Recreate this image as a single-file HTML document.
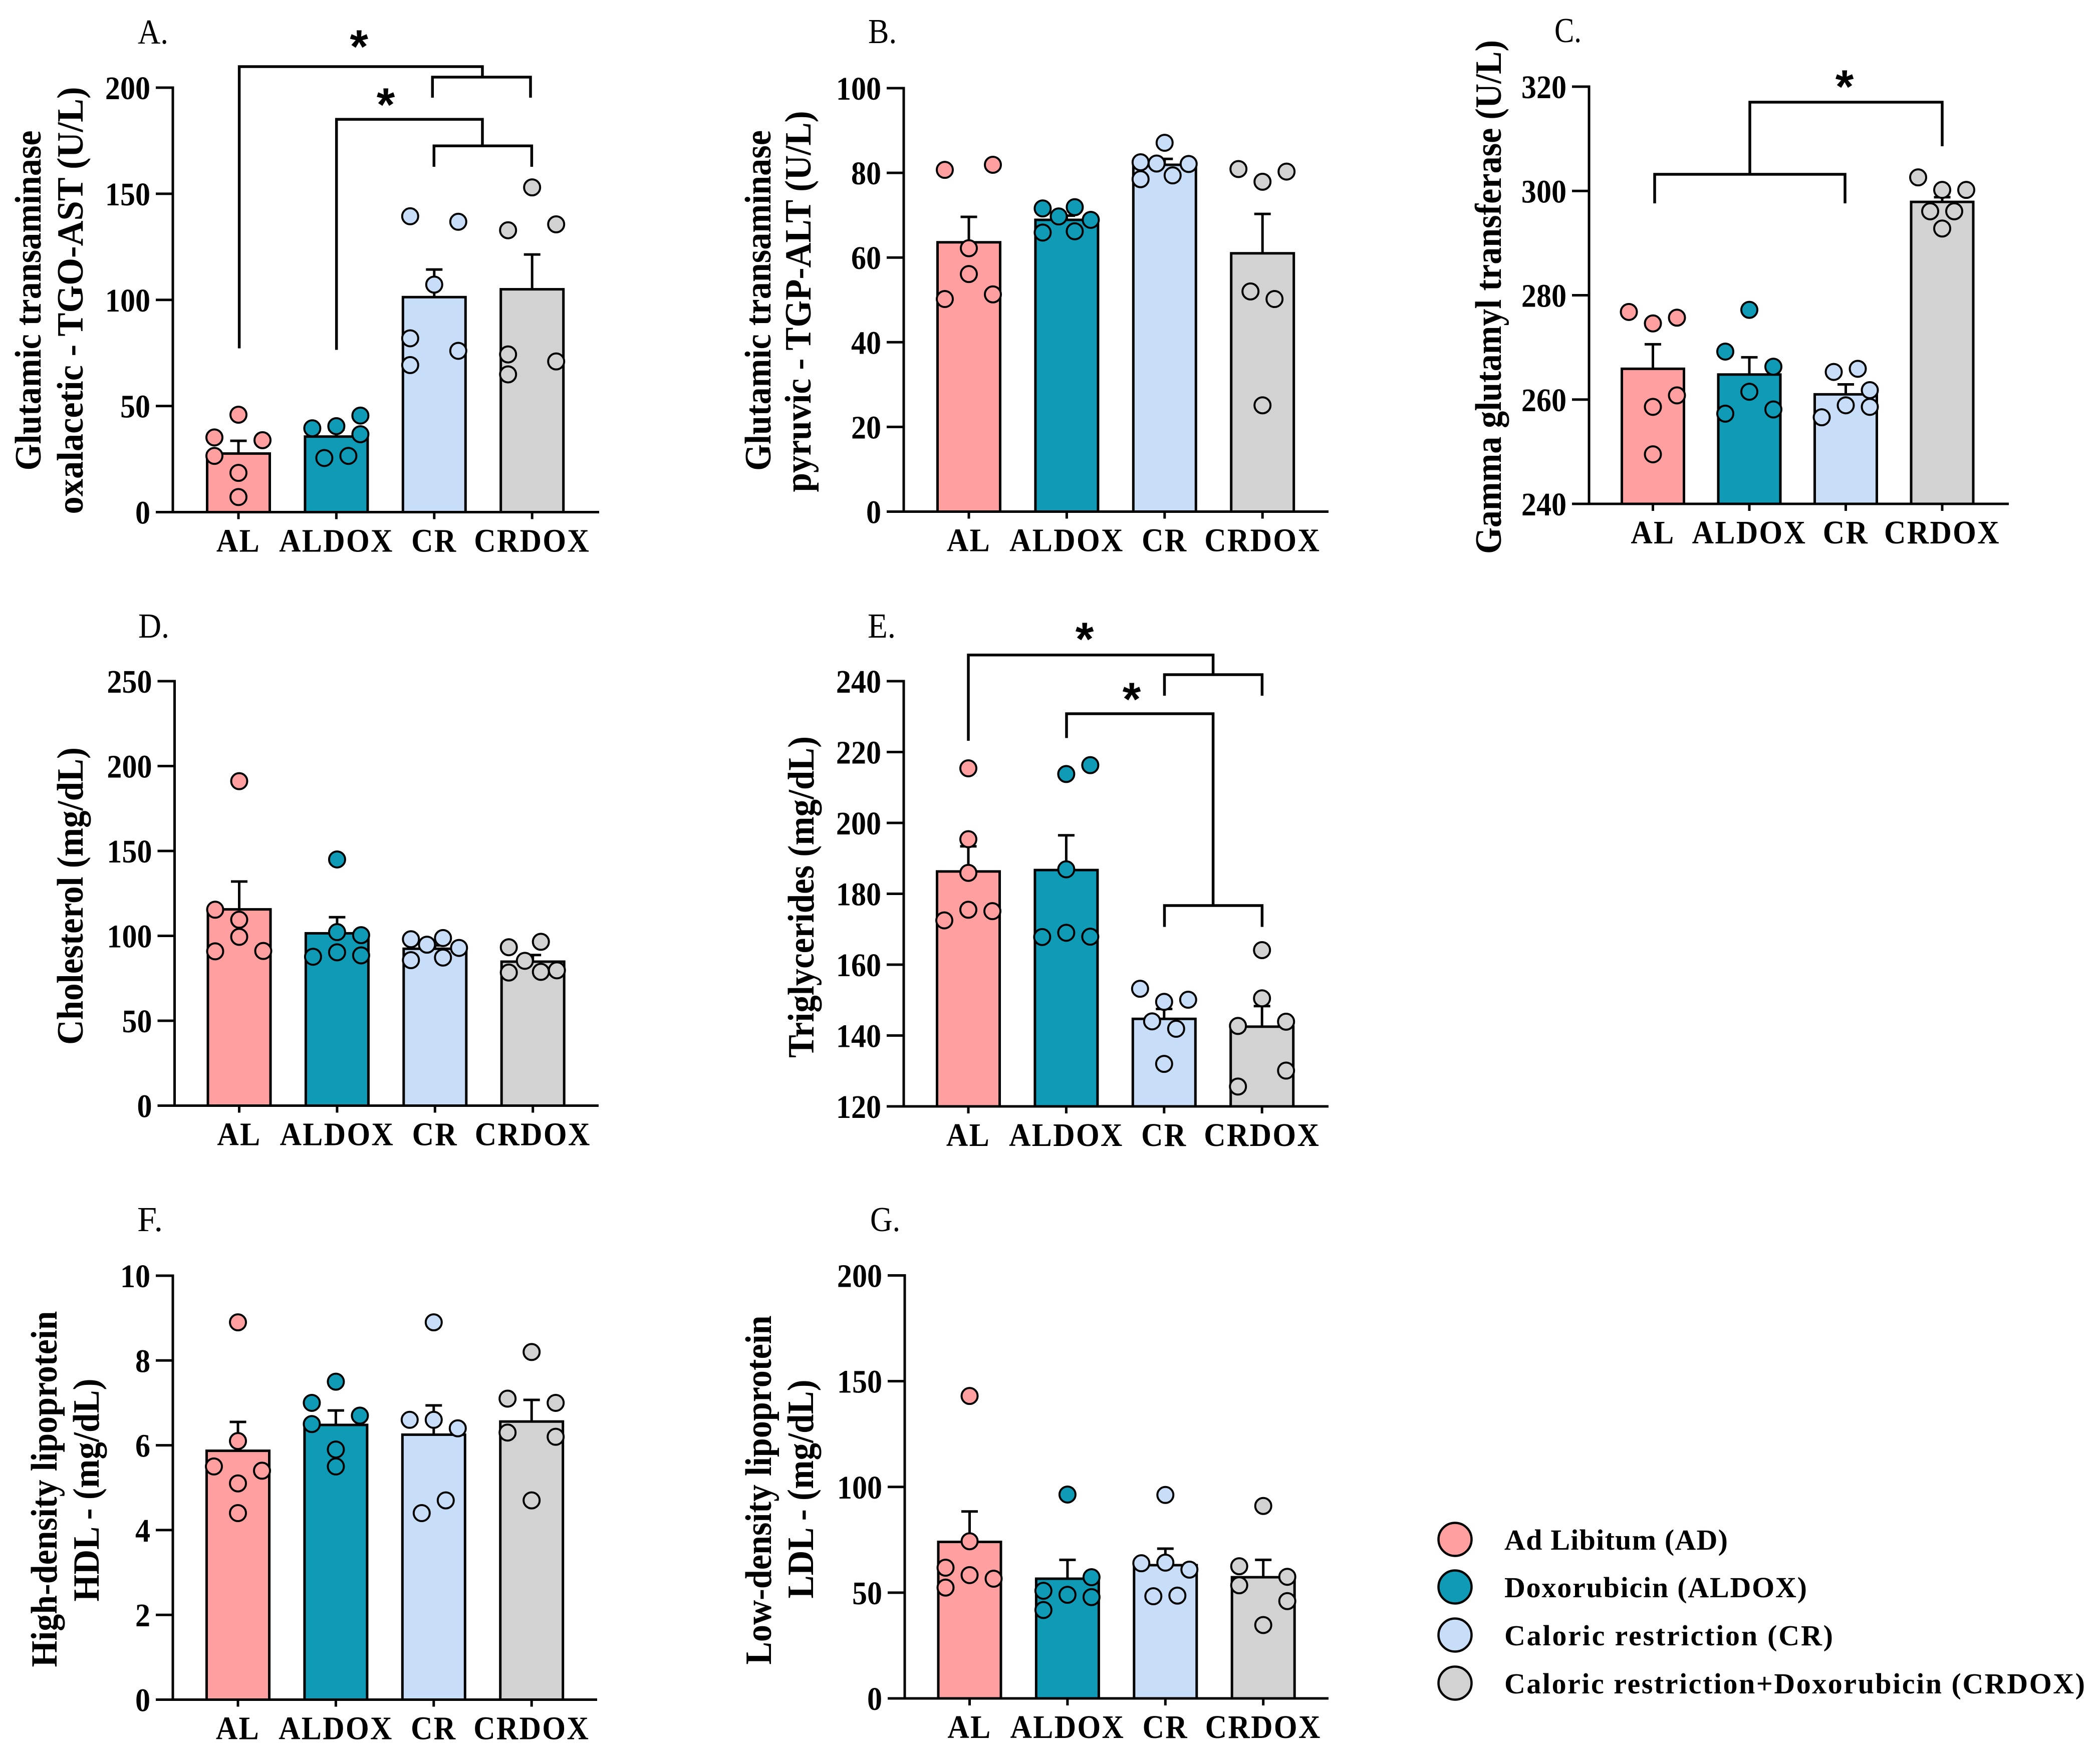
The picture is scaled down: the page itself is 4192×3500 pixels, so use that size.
<!DOCTYPE html>
<html lang="en">
<head>
<meta charset="utf-8">
<title>Serum biochemistry bar charts</title>
<style>
html,body{margin:0;padding:0;background:#fff;}
svg{display:block;}
text{font-family:"Liberation Serif",serif;fill:#000;}
.ytitle{font-weight:700;font-size:74px;}
.letter{font-size:70px;}
.legend-text{font-weight:700;font-size:58px;}
.star{font-family:"Liberation Sans",sans-serif;font-weight:700;font-size:94px;text-anchor:middle;}
.tick{font-weight:700;font-size:66px;text-anchor:end;}
.cat{font-weight:700;font-size:66px;text-anchor:middle;letter-spacing:2.6px;}
.br{fill:none;stroke:#000;stroke-width:5.5;stroke-linejoin:miter;}
</style>
</head>
<body>
<svg id="figure" xmlns="http://www.w3.org/2000/svg" width="4192" height="3500" viewBox="0 0 4192 3500">
<rect x="0" y="0" width="4192" height="3500" fill="#fff"/>

<g id="panel-a">
  <text class="letter" x="275" y="87" textLength="61" lengthAdjust="spacingAndGlyphs">A.</text>
  <text class="ytitle" transform="translate(81,600) rotate(-90)" text-anchor="middle" textLength="679" lengthAdjust="spacingAndGlyphs">Glutamic transaminase</text>
  <text class="ytitle" transform="translate(165,600) rotate(-90)" text-anchor="middle" textLength="853" lengthAdjust="spacingAndGlyphs">oxalacetic - TGO-AST (U/L)</text>
  <path class="br" d="M477.6 695.5V133H963V154"/>
  <path class="br" d="M863.3 195V154H1059V195"/>
  <path class="br" d="M671.7 698.5V238.3H963V291.3"/>
  <path class="br" d="M866.3 333V291.3H1061.4V333"/>
  <text class="star" x="716.7" y="125">*</text>
  <text class="star" x="770" y="241">*</text>
</g>

<g id="panel-b">
  <text class="letter" x="1733" y="86" textLength="57" lengthAdjust="spacingAndGlyphs">B.</text>
  <text class="ytitle" transform="translate(1538,600) rotate(-90)" text-anchor="middle" textLength="680" lengthAdjust="spacingAndGlyphs">Glutamic transaminase</text>
  <text class="ytitle" transform="translate(1618,602) rotate(-90)" text-anchor="middle" textLength="761" lengthAdjust="spacingAndGlyphs">pyruvic - TGP-ALT (U/L)</text>
</g>

<g id="panel-c">
  <text class="letter" x="3103" y="84" textLength="54" lengthAdjust="spacingAndGlyphs">C.</text>
  <text class="ytitle" transform="translate(2996,593) rotate(-90)" text-anchor="middle" textLength="1026" lengthAdjust="spacingAndGlyphs">Gamma glutamyl transferase (U/L)</text>
  <path class="br" d="M3303 406V348H3683V406"/>
  <path class="br" d="M3493 348V204H3877V292"/>
  <text class="star" x="3682" y="205">*</text>
</g>

<g id="panel-d">
  <text class="letter" x="276" y="1273" textLength="62" lengthAdjust="spacingAndGlyphs">D.</text>
  <text class="ytitle" transform="translate(165,1789) rotate(-90)" text-anchor="middle" textLength="594" lengthAdjust="spacingAndGlyphs">Cholesterol (mg/dL)</text>
</g>

<g id="panel-e">
  <text class="letter" x="1732" y="1273" textLength="56" lengthAdjust="spacingAndGlyphs">E.</text>
  <text class="ytitle" transform="translate(1624,1791) rotate(-90)" text-anchor="middle" textLength="642" lengthAdjust="spacingAndGlyphs">Triglycerides (mg/dL)</text>
  <path class="br" d="M1933 1479V1307.7H2421.6V1347"/>
  <path class="br" d="M2324.5 1389V1347H2519.4V1389"/>
  <path class="br" d="M2129 1473.5V1425H2421.6V1808"/>
  <path class="br" d="M2324.5 1850.6V1808H2519.4V1850.6"/>
  <text class="star" x="2165" y="1308">*</text>
  <text class="star" x="2259" y="1428">*</text>
</g>

<g id="panel-f">
  <text class="letter" x="274" y="2458" textLength="51" lengthAdjust="spacingAndGlyphs">F.</text>
  <text class="ytitle" transform="translate(113,2973) rotate(-90)" text-anchor="middle" textLength="711" lengthAdjust="spacingAndGlyphs">High-density lipoprotein</text>
  <text class="ytitle" transform="translate(197,2975) rotate(-90)" text-anchor="middle" textLength="445" lengthAdjust="spacingAndGlyphs">HDL - (mg/dL)</text>
</g>

<g id="panel-g">
  <text class="letter" x="1737" y="2458" textLength="60" lengthAdjust="spacingAndGlyphs">G.</text>
  <text class="ytitle" transform="translate(1539,2975) rotate(-90)" text-anchor="middle" textLength="697" lengthAdjust="spacingAndGlyphs">Low-density lipoprotein</text>
  <text class="ytitle" transform="translate(1623,2973) rotate(-90)" text-anchor="middle" textLength="437" lengthAdjust="spacingAndGlyphs">LDL - (mg/dL)</text>
</g>

<g>
  <g>
    <circle cx="2904.5" cy="3073.5" r="33" fill="#FF9F9F" stroke="#000" stroke-width="4.5"/>
    <text class="legend-text" x="3003" y="3094" textLength="446">Ad Libitum (AD)</text>
  </g>
  <g>
    <circle cx="2904.5" cy="3168.5" r="33" fill="#0F9AB5" stroke="#000" stroke-width="4.5"/>
    <text class="legend-text" x="3003" y="3189" textLength="604">Doxorubicin (ALDOX)</text>
  </g>
  <g>
    <circle cx="2904.5" cy="3264.5" r="33" fill="#C8DDF8" stroke="#000" stroke-width="4.5"/>
    <text class="legend-text" x="3003" y="3285" textLength="656">Caloric restriction (CR)</text>
  </g>
  <g>
    <circle cx="2904.5" cy="3360.5" r="33" fill="#D2D2D2" stroke="#000" stroke-width="4.5"/>
    <text class="legend-text" x="3003" y="3381" textLength="1159">Caloric restriction+Doxorubicin (CRDOX)</text>
  </g>
</g>
</svg>

<script>
// Shared categories and colours
const categories = ['AL', 'ALDOX', 'CR', 'CRDOX'];
const groupColors = ['#FF9F9F', '#0F9AB5', '#C8DDF8', '#D2D2D2'];

// Panel A
const aTicks = [0, 50, 100, 150, 200];
const aMeans = [27.6, 35.6, 101.3, 105];
const aErrorTops = [33.6, 39, 114.3, 121.4];
const aPoints = [
  [45.9, 35.2, 33.9, 26.5, 18.5, 7.1],
  [39.5, 40.5, 45.5, 36.7, 25.5, 26.5],
  [139.4, 136.8, 107.2, 81.9, 76, 69.3],
  [153, 132.8, 135.6, 74.3, 71, 64.9]
];
const aSlots = [
  [0, -3, 3, -3, 0, 0],
  [-3, 0, 3, 3, -1.5, 1.5],
  [-3, 3, 0, -3, 3, -3],
  [0, -3, 3, -3, 3, -3]
];

// Panel B
const bTicks = [0, 20, 40, 60, 80, 100];
const bMeans = [63.6, 68.9, 81.9, 61];
const bErrorTops = [69.6, 69.9, 83.3, 70.3];
const bPoints = [
  [80.7, 81.9, 62.2, 56.1, 50.2, 51.3],
  [71.6, 69.7, 71.9, 68.9, 65.9, 66.2],
  [87.1, 82.5, 82.2, 82.1, 78.5, 79.4],
  [80.9, 80.3, 77.9, 52, 50.2, 25.1]
];
const bSlots = [
  [-3, 3, 0, 0, -3, 3],
  [-3, -1, 1, 3, -3, 1],
  [0, -3, -1, 3, -3, 1],
  [-3, 3, 0, -1.5, 1.5, 0]
];

// Panel C
const cTicks = [240, 260, 280, 300, 320];
const cMeans = [265.9, 264.8, 261, 297.9];
const cErrorTops = [270.6, 268.1, 262.9, 298.8];
const cPoints = [
  [276.8, 274.6, 275.7, 260.8, 258.6, 249.5],
  [277.2, 269.2, 266.3, 261.5, 257.3, 258.1],
  [265.3, 265.9, 261.8, 258.9, 258.6, 256.6],
  [302.6, 300.2, 300.2, 296.1, 296.1, 292.8]
];
const cSlots = [
  [-3, 0, 3, 3, 0, 0],
  [0, -3, 3, 0, -3, 3],
  [-1.5, 1.5, 3, 0, 3, -3],
  [-3, 0, 3, -1.5, 1.5, 0]
];

// Panel D
const dTicks = [0, 50, 100, 150, 200, 250];
const dMeans = [115.6, 101.5, 92.4, 84.8];
const dErrorTops = [132, 111, 94.4, 88.7];
const dPoints = [
  [191.1, 115.4, 109.5, 99.4, 90.9, 91.1],
  [145, 102.2, 100.4, 90.3, 87.7, 88.5],
  [98, 98.7, 94.8, 92.9, 85.7, 87.2],
  [96.5, 93.3, 85.3, 78.4, 78.8, 79.7]
];
const dSlots = [
  [0, -3, 0, 0, -3, 3],
  [0, 0, 3, 0, -3, 3],
  [-3, 1, -1, 3, -3, 1],
  [1, -3, -1, -3, 1, 3]
];

// Panel E
const eTicks = [120, 140, 160, 180, 200, 220, 240];
const eMeans = [186.3, 186.7, 144.7, 142.5];
const eErrorTops = [193.4, 196.5, 147.5, 148.3];
const ePoints = [
  [215.4, 195.4, 185.9, 175.5, 175.1, 172.5],
  [216.3, 213.8, 186.9, 167.8, 169, 167.9],
  [153.2, 149.5, 150.1, 144, 141.9, 132],
  [164.1, 150.5, 142.7, 143.9, 130.1, 125.6]
];
const eSlots = [
  [0, 0, 0, 0, 3, -3],
  [3, 0, 0, -3, 0, 3],
  [-3, 0, 3, -1.5, 1.5, 0],
  [0, 0, -3, 3, 3, -3]
];

// Panel F
const fTicks = [0, 2, 4, 6, 8, 10];
const fMeans = [5.87, 6.48, 6.25, 6.56];
const fErrorTops = [6.55, 6.82, 6.94, 7.07];
const fPoints = [
  [8.9, 6.1, 5.5, 5.4, 5.1, 4.4],
  [7.5, 7, 6.7, 6.5, 5.9, 5.5],
  [8.9, 6.6, 6.6, 6.4, 4.7, 4.4],
  [8.2, 7.1, 7, 6.3, 6.2, 4.7]
];
const fSlots = [
  [0, 0, -3, 3, 0, 0],
  [0, -3, 3, -3, 0, 0],
  [0, -3, 0, 3, 1.5, -1.5],
  [0, -3, 3, -3, 3, 0]
];

// Panel G
const gTicks = [0, 50, 100, 150, 200];
const gMeans = [74, 56.6, 63, 57.3];
const gErrorTops = [88.4, 65.5, 70.8, 65.5];
const gPoints = [
  [143, 74.3, 61.8, 58.3, 56.6, 52.4],
  [96.4, 57.3, 50.9, 49, 47.9, 41.8],
  [96.2, 63.9, 64.2, 60.9, 48.3, 48.6],
  [91, 62.5, 57.5, 53.5, 46, 34.7]
];
const gSlots = [
  [0, 0, -3, 0, 3, -3],
  [0, 3, -3, 0, 3, -3],
  [0, -3, 0, 3, -1.5, 1.5],
  [0, -3, 3, -3, 3, 0]
];

// Panel frames and the data each one draws
const panels = [
  { id: 'panel-a', axisX: 345, top: 175, bottom: 1022.5, right: 1196, firstX: 476, step: 195.4, barHalf: 62.5, ticks: aTicks, means: aMeans, errs: aErrorTops, pts: aPoints, slots: aSlots },
  { id: 'panel-b', axisX: 1804, top: 176, bottom: 1021.5, right: 2652, firstX: 1934, step: 195.4, barHalf: 62.5, ticks: bTicks, means: bMeans, errs: bErrorTops, pts: bPoints, slots: bSlots },
  { id: 'panel-c', axisX: 3172, top: 173, bottom: 1006, right: 4010, firstX: 3299.5, step: 192.5, barHalf: 62, ticks: cTicks, means: cMeans, errs: cErrorTops, pts: cPoints, slots: cSlots },
  { id: 'panel-d', axisX: 348.5, top: 1360, bottom: 2207.5, right: 1195, firstX: 477.5, step: 195.4, barHalf: 62.5, ticks: dTicks, means: dMeans, errs: dErrorTops, pts: dPoints, slots: dSlots },
  { id: 'panel-e', axisX: 1804, top: 1360, bottom: 2209, right: 2652, firstX: 1933, step: 195.4, barHalf: 62.5, ticks: eTicks, means: eMeans, errs: eErrorTops, pts: ePoints, slots: eSlots },
  { id: 'panel-f', axisX: 345, top: 2547, bottom: 3393.5, right: 1192, firstX: 475, step: 195.4, barHalf: 62.5, ticks: fTicks, means: fMeans, errs: fErrorTops, pts: fPoints, slots: fSlots },
  { id: 'panel-g', axisX: 1806, top: 2546.5, bottom: 3391, right: 2652, firstX: 1935.5, step: 195.4, barHalf: 62.5, ticks: gTicks, means: gMeans, errs: gErrorTops, pts: gPoints, slots: gSlots }
];

const NS = 'http://www.w3.org/2000/svg';
const SLOT = 16;
const CAP_HALF = 16.5;
const GLYPH_SQUEEZE = 0.91;

function make(tag, parent, geometry) {
  const node = document.createElementNS(NS, tag);
  for (const key in geometry) node.setAttribute(key, geometry[key]);
  parent.appendChild(node);
  return node;
}

function drawPanel(p) {
  const root = document.getElementById(p.id);
  const lo = p.ticks[0];
  const hi = p.ticks[p.ticks.length - 1];
  const yScale = function (v) { return p.bottom - (v - lo) / (hi - lo) * (p.bottom - p.top); };
  const xScale = function (i) { return p.firstX + i * p.step; };

  // error bars (behind the bars)
  p.errs.forEach(function (v, i) {
    const errLine = make('path', root, {
      d: 'M' + xScale(i) + ' ' + yScale(p.means[i]) + 'V' + yScale(v) + 'M' + (xScale(i) - CAP_HALF) + ' ' + yScale(v) + 'H' + (xScale(i) + CAP_HALF),
      fill: 'none', stroke: '#000', 'stroke-width': 5
    });
    
    
  });

  // bars
  p.means.forEach(function (v, i) {
    const bar = make('rect', root, {
      x: xScale(i) - p.barHalf, y: yScale(v), width: p.barHalf * 2, height: p.bottom - yScale(v),
      fill: groupColors[i], stroke: '#000', 'stroke-width': 5
    });
    
    
  });

  // y axis
  const yAxis = make('line', root, { x1: p.axisX, x2: p.axisX, y1: p.top - 2.5, y2: p.bottom + 2.5, stroke: '#000', 'stroke-width': 5 });
  
  

  // x axis
  const xAxis = make('line', root, { x1: p.axisX - 34, x2: p.right, y1: p.bottom, y2: p.bottom, stroke: '#000', 'stroke-width': 5 });
  
  

  // y ticks and labels
  p.ticks.forEach(function (t) {
    const mark = make('line', root, { x1: p.axisX - 34, x2: p.axisX, y1: yScale(t), y2: yScale(t), stroke: '#000', 'stroke-width': 5 });
    
    
    const label = make('text', root, { class: 'tick', transform: 'translate(' + (p.axisX - 45) + ',' + (yScale(t) + 23) + ') scale(' + GLYPH_SQUEEZE + ',1)' });
    label.textContent = String(t);
    
    
  });

  // x ticks and labels
  categories.forEach(function (c, i) {
    const mark = make('line', root, { x1: xScale(i), x2: xScale(i), y1: p.bottom, y2: p.bottom + 14, stroke: '#000', 'stroke-width': 5 });
    
    
    const label = make('text', root, { class: 'cat', transform: 'translate(' + xScale(i) + ',' + (p.bottom + 79) + ') scale(' + GLYPH_SQUEEZE + ',1)' });
    label.textContent = c;
    
    
  });

  // individual points
  p.pts.forEach(function (group, i) {
    group.forEach(function (v, j) {
      const dot = make('circle', root, {
        cx: xScale(i) + p.slots[i][j] * SLOT, cy: yScale(v), r: 16,
        fill: groupColors[i], stroke: '#000', 'stroke-width': 4
      });
      
      
    });
  });
}

panels.forEach(drawPanel);
</script>
</body>
</html>
